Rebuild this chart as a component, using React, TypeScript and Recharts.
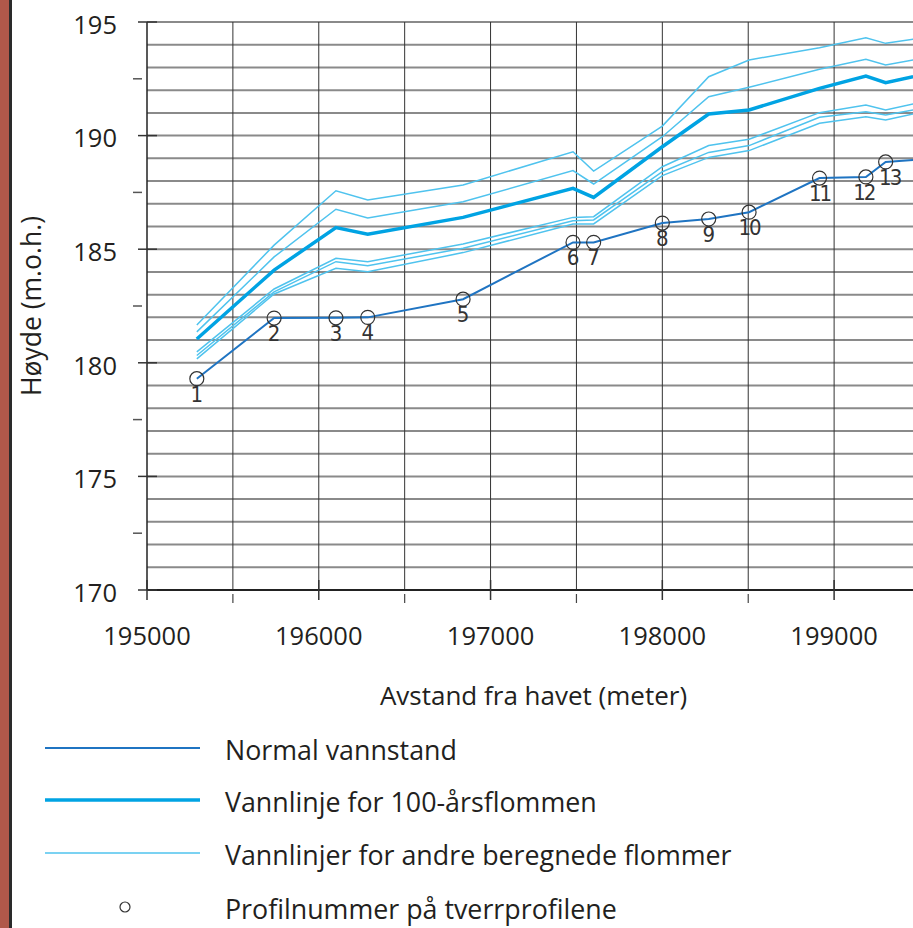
import React from 'react';
import { LineChart, Line, XAxis, YAxis, CartesianGrid } from 'recharts';

// distance from the sea (m) at each cross-section, last entry is the cut-off edge
const distance = [195290, 195740, 196100, 196285, 196840, 197480, 197600, 198000, 198270, 198505, 198915, 199185, 199300, 199460];
const profileNo = ['1', '2', '3', '4', '5', '6', '7', '8', '9', '10', '11', '12', '13', ''];

const normal = [179.3, 181.97, 181.98, 182.0, 182.8, 185.3, 185.3, 186.15, 186.33, 186.63, 188.13, 188.18, 188.84, 188.93];
const flood100 = [181.05, 184.08, 185.95, 185.66, 186.4, 187.68, 187.28, 189.51, 190.95, 191.13, 192.08, 192.62, 192.33, 192.59];
const floodA = [181.66, 185.18, 187.57, 187.17, 187.83, 189.29, 188.44, 190.42, 192.59, 193.33, 193.87, 194.31, 194.06, 194.24];
const floodB = [181.36, 184.66, 186.76, 186.37, 187.09, 188.46, 187.87, 189.95, 191.71, 192.13, 192.92, 193.36, 193.11, 193.33];
const floodC = [180.48, 183.25, 184.6, 184.45, 185.23, 186.4, 186.43, 188.63, 189.56, 189.84, 191.01, 191.35, 191.13, 191.39];
const floodD = [180.32, 183.12, 184.45, 184.27, 185.04, 186.25, 186.29, 188.41, 189.26, 189.56, 190.81, 191.05, 190.91, 191.13];
const floodE = [180.17, 183.03, 184.16, 184.01, 184.85, 186.11, 186.11, 188.24, 189.04, 189.34, 190.54, 190.83, 190.69, 190.95];

const yTicks = [170, 172.5, 175, 177.5, 180, 182.5, 185, 187.5, 190, 192.5, 195];
const xTicks = [195000, 195500, 196000, 196500, 197000, 197500, 198000, 198500, 199000, 199500];
const yGrid = [171, 172, 173, 174, 175, 176, 177, 178, 179, 180, 181, 182, 183, 184, 185, 186, 187, 188, 189, 190, 191, 192, 193, 194, 195];
const xGrid = [195500, 196000, 196500, 197000, 197500, 198000, 198500, 199000, 199500];

const legendItems = [
  { label: 'Normal vannstand', kind: 'normal' },
  { label: 'Vannlinje for 100-årsflommen', kind: 'f100' },
  { label: 'Vannlinjer for andre beregnede flommer', kind: 'other' },
  { label: 'Profilnummer på tverrprofilene', kind: 'marker' },
];

const data = distance.map((d, i) => ({
  d,
  normal: normal[i],
  f100: flood100[i],
  fa: floodA[i],
  fb: floodB[i],
  fc: floodC[i],
  fd: floodD[i],
  fe: floodE[i],
}));

const FONT = '"Open Sans", sans-serif';
const TEXT = '#231f20';
const C_NORMAL = '#1f74c2';
const C_100 = '#00a3e3';
const C_OTHER = '#4fc3ee';

function YTick({ x, y, payload }: any) {
  const v = payload.value;
  if (v % 5 !== 0) {
    return <line x1={x - 14} x2={x - 5} y1={y} y2={y} stroke="#555" strokeWidth={1.5} />;
  }
  return (
    <g>
      <line x1={x - 9} x2={x + 10} y1={y} y2={y} stroke="#333" strokeWidth={1.5} />
      <text x={x - 30} y={y + 5} textAnchor="end" dominantBaseline="middle" fontSize={25.5} fill={TEXT} fontFamily={FONT}>
        {v}
      </text>
    </g>
  );
}

function XTick({ x, y, payload }: any) {
  const v = payload.value;
  if (v % 1000 !== 0) {
    return <line x1={x} x2={x} y1={y + 4} y2={y + 13} stroke="#444" strokeWidth={1.2} />;
  }
  return (
    <g>
      <line x1={x} x2={x} y1={y - 10} y2={y + 10} stroke="#333" strokeWidth={1.5} />
      <text x={x} y={y + 48} textAnchor="middle" dominantBaseline="middle" fontSize={25.5} fill={TEXT} fontFamily={FONT}>
        {v}
      </text>
    </g>
  );
}

function ProfileDot(props: any) {
  const { cx, cy, index } = props;
  const no = profileNo[index];
  if (!no) return <g key={`p${index}`} />;
  const shift = no === '13' ? 4 : no === '12' ? -2 : 0;
  return (
    <g key={`p${index}`}>
      <circle cx={cx} cy={cy} r={7} fill="none" stroke="#333" strokeWidth={1.2} />
      <text
        x={cx + shift}
        y={cy + 17}
        textAnchor="middle"
        dominantBaseline="middle"
        fontSize={22}
        letterSpacing={no.length > 1 ? -2 : 0}
        fill="#333"
        fontFamily='"DejaVu Sans Condensed", "DejaVu Sans", sans-serif'
      >
        {no}
      </text>
    </g>
  );
}

function LegendBlock() {
  const rows = [748, 800, 853, 907];
  return (
    <svg width={913} height={240} style={{ position: 'absolute', left: 0, top: 700 }}>
      {legendItems.map((it, i) => {
        const y = rows[i] - 700;
        let mark;
        if (it.kind === 'normal') mark = <line x1={45} x2={200} y1={y} y2={y} stroke={C_NORMAL} strokeWidth={2} />;
        else if (it.kind === 'f100') mark = <line x1={45} x2={200} y1={y} y2={y} stroke={C_100} strokeWidth={3.5} />;
        else if (it.kind === 'other') mark = <line x1={45} x2={200} y1={y} y2={y} stroke={C_OTHER} strokeWidth={1.5} />;
        else mark = <circle cx={125} cy={y} r={5} fill="none" stroke="#333" strokeWidth={1.2} />;
        return (
          <g key={it.label}>
            {mark}
            <text x={225} y={y + 5} dominantBaseline="middle" fontSize={26.8} fill={TEXT} fontFamily={FONT}>
              {it.label}
            </text>
          </g>
        );
      })}
    </svg>
  );
}

export default function App() {
  return (
    <div style={{ position: 'absolute', left: 0, top: 0, width: 913, height: 928, overflow: 'hidden', background: '#fff' }}>
      <div style={{ position: 'absolute', left: 0, top: 0, width: 9, height: 928, background: '#b0584a' }} />
      <div style={{ position: 'absolute', left: 9, top: 0, width: 3, height: 928, background: '#2a2a2a' }} />
      <div style={{ position: 'absolute', left: 0, top: 0 }}>
        <LineChart width={925} height={928} data={data} margin={{ top: 22, right: 5, left: 0, bottom: 278 }}>
          <CartesianGrid horizontal vertical={false} horizontalValues={yGrid} stroke="#8a8a8a" strokeWidth={2} />
          <CartesianGrid horizontal={false} vertical verticalValues={xGrid} stroke="#333" strokeWidth={1} />
          <XAxis
            dataKey="d"
            type="number"
            domain={[195000, 199500]}
            ticks={xTicks}
            interval={0}
            tickSize={0}
            tickMargin={0}
            tick={<XTick />}
            height={60}
            axisLine={{ stroke: '#222', strokeWidth: 2 }}
            allowDataOverflow
            label={{ value: 'Avstand fra havet (meter)', position: 'bottom', offset: 37, fontSize: 26, fill: TEXT, fontFamily: FONT }}
          />
          <YAxis
            type="number"
            domain={[170, 195]}
            ticks={yTicks}
            interval={0}
            tickSize={0}
            tickMargin={0}
            tick={<YTick />}
            width={147}
            axisLine={{ stroke: '#222', strokeWidth: 1.5 }}
            allowDataOverflow
            label={{
              value: 'Høyde (m.o.h.)',
              angle: -90,
              position: 'insideLeft',
              offset: 32,
              fontSize: 26.5,
              fill: TEXT,
              fontFamily: FONT,
              style: { textAnchor: 'middle' },
            }}
          />
          <Line dataKey="fa" stroke={C_OTHER} strokeWidth={1.5} dot={false} isAnimationActive={false} />
          <Line dataKey="fb" stroke={C_OTHER} strokeWidth={1.5} dot={false} isAnimationActive={false} />
          <Line dataKey="fc" stroke={C_OTHER} strokeWidth={1.5} dot={false} isAnimationActive={false} />
          <Line dataKey="fd" stroke={C_OTHER} strokeWidth={1.5} dot={false} isAnimationActive={false} />
          <Line dataKey="fe" stroke={C_OTHER} strokeWidth={1.5} dot={false} isAnimationActive={false} />
          <Line dataKey="f100" stroke={C_100} strokeWidth={3.5} dot={false} isAnimationActive={false} />
          <Line dataKey="normal" stroke={C_NORMAL} strokeWidth={2} dot={ProfileDot} isAnimationActive={false} />
        </LineChart>
      </div>
      <LegendBlock />
    </div>
  );
}
